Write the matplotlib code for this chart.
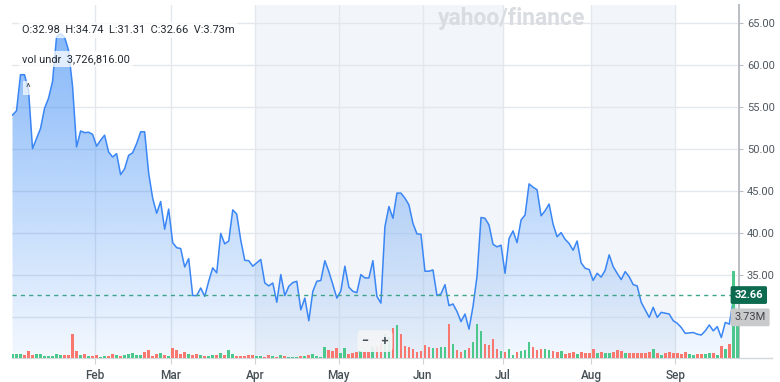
import numpy as np
import matplotlib.pyplot as plt
from matplotlib.lines import Line2D
import matplotlib.transforms as mtransforms

plt.rcParams['font.family'] = ['Roboto', 'DejaVu Sans']

# daily closes
jan = [54.1, 54.6, 58.9, 58.9, 57.1, 50.1, 51.3, 52.5, 54.9, 56.1, 58.1, 63.4, 63.8, 63.4,
       61.8, 57.5, 50.3, 52.2, 52.0, 52.05, 51.8]
feb = [50.4, 51.1, 51.7, 49.7, 49.1, 49.5, 47.0, 47.7, 49.3, 49.6, 50.7, 52.1, 52.1, 47.2,
       44.2, 42.4, 43.8, 40.5, 42.9]
mar = [38.9, 38.3, 38.2, 36.0, 37.0, 32.6, 32.6, 33.5, 32.5, 34.3, 35.9, 35.3, 40.0, 38.75,
       39.1, 42.8, 42.3, 39.2, 36.8, 36.75, 36.1]
apr = [36.5, 36.9, 34.1, 33.75, 34.1, 31.8, 35.1, 32.6, 33.7, 34.15, 34.3, 30.9, 32.3, 29.6,
       33.1, 34.3, 34.4, 36.75, 35.45, 33.9, 32.3]
may = [33.15, 36.1, 33.6, 33.1, 32.95, 35.1, 34.7, 34.7, 36.75, 32.5, 31.7, 40.8, 43.2, 41.8,
       44.8, 44.8, 44.2, 43.4, 41.2, 39.95, 39.9]
jun = [35.5, 35.5, 35.65, 32.6, 32.8, 33.9, 31.4, 31.6, 30.7, 29.5, 30.4, 28.6, 31.3, 34.9,
       41.9, 41.8, 41.0, 38.7, 38.4, 38.6]
jul = [35.25, 39.4, 40.3, 38.9, 41.6, 42.2, 45.9, 45.5, 45.2, 42.1, 42.7, 43.5, 41.1, 39.6,
       40.1, 39.3, 38.8, 38.0, 39.1, 36.5, 35.85, 35.7]
aug = [34.4, 35.25, 34.8, 35.6, 37.45, 36.05, 35.25, 34.5, 35.45, 34.85, 33.9, 33.75, 31.8,
       30.9, 30.0, 31.2, 30.0, 30.6, 30.5, 30.4, 29.6]
sep = [29.3, 28.8, 28.1, 28.15, 28.2, 28.0, 27.9, 28.4, 29.1, 28.4, 28.9, 27.6, 29.4, 29.2,
       32.1, 32.66]

# daily volume in millions
jan_vol = [0.35, 0.35, 0.35, 0.3, 0.6, 0.3, 0.35, 0.35, 0.15, 0.2, 0.2, 0.35, 0.25, 0.25,
           0.25, 2.3, 0.65, 0.25, 0.35, 0.15, 0.2]
feb_vol = [0.3, 0.1, 0.15, 0.2, 0.4, 0.3, 0.2, 0.25, 0.35, 0.45, 0.3, 0.3, 0.5, 0.75, 0.2,
           0.35, 0.45, 0.25, 0.2]
mar_vol = [0.9, 0.7, 0.35, 0.5, 0.35, 0.3, 0.35, 0.25, 0.2, 0.2, 0.25, 0.3, 0.45, 0.25, 0.75,
           0.4, 0.2, 0.2, 0.2, 0.25, 0.25]
apr_vol = [0.15, 0.15, 0.1, 0.3, 0.2, 0.1, 0.3, 0.15, 0.1, 0.05, 0.05, 0.15, 0.2, 0.3, 0.35,
           0.2, 0.1, 1.0, 0.7, 0.6, 0.9]
may_vol = [0.45, 0.9, 0.4, 0.45, 0.5, 0.6, 0.5, 0.5, 1.0, 1.05, 1.4, 2.3, 2.0, 2.8, 3.1, 2.3,
           1.1, 1.05, 0.8, 0.55, 0.65]
jun_vol = [1.2, 1.05, 0.9, 0.9, 1.0, 1.05, 3.2, 1.3, 0.7, 0.55, 0.7, 0.95, 1.45, 3.2, 2.5,
           1.3, 1.2, 1.75, 0.8, 0.65]
jul_vol = [0.55, 0.8, 0.25, 0.55, 0.65, 0.7, 1.45, 1.05, 0.7, 0.8, 0.8, 0.7, 0.6, 0.57, 0.6,
           0.4, 0.48, 0.57, 0.4, 0.57, 0.48, 0.41]
aug_vol = [0.8, 0.41, 0.57, 0.48, 0.48, 0.5, 0.7, 0.6, 0.48, 0.48, 0.48, 0.41, 0.48, 0.48,
           0.57, 0.79, 0.41, 0.25, 0.41, 0.57, 0.48]
sep_vol = [0.48, 0.35, 0.57, 0.35, 0.3, 0.35, 0.35, 0.35, 0.41, 0.48, 0.25, 1.1, 0.8, 1.3,
           8.3, 3.73]

month_labels = ['Feb', 'Mar', 'Apr', 'May', 'Jun', 'Jul', 'Aug', 'Sep']
price_ticks = [30, 35, 40, 45, 50, 55, 60, 65]
last_open, last_high, last_low = 32.98, 34.74, 31.31
vol_undr = 3726816.00

months = [jan, feb, mar, apr, may, jun, jul, aug, sep]
close = np.array(sum(months, []))
vol = np.array(sum([jan_vol, feb_vol, mar_vol, apr_vol, may_vol, jun_vol, jul_vol,
                    aug_vol, sep_vol], []))
x = np.arange(len(close))
starts = np.cumsum([len(m) for m in months])[:-1] - 0.5
tick_at = dict(zip(month_labels, starts))

ylo, yhi = 25.2, 67.2

fig = plt.figure(figsize=(7.8, 3.82), dpi=100)
ax = fig.add_axes([12.5 / 780, 1 - 357.7 / 382, 726 / 780, 352.7 / 382])
axv = ax.twinx()

# shaded month bands (Apr-Jul, Aug-Sep)
ax.axvspan(tick_at['Apr'], tick_at['Jul'], color='#f2f5f9', zorder=0, lw=0)
ax.axvspan(tick_at['Aug'], tick_at['Sep'], color='#f2f5f9', zorder=0, lw=0)

ax.set_axisbelow(True)
ax.grid(True, color='#e4e8ec', lw=1)

# gradient fill under the price line
poly = ax.fill_between(x, close, ylo, color='none', lw=0)
levels = np.linspace(ylo, yhi, 200)
alpha = np.clip(0.06 + 0.58 * (levels - ylo) / (65 - ylo), 0, 0.64)
grad = np.zeros((200, 1, 4))
grad[:, 0, :3] = np.array([60, 140, 245]) / 255
grad[:, 0, 3] = alpha
img = ax.imshow(grad, extent=[x[0], x[-1], ylo, yhi], aspect='auto', origin='lower',
                zorder=1, interpolation='bilinear')
img.set_clip_path(poly.get_paths()[0], transform=ax.transData)
ax.set_xlim(0, len(close) - 0.7)
ax.set_ylim(ylo, yhi)

ax.plot(x, close, color='#3a86f5', lw=1.1, zorder=3)
ax.axhline(close[-1], color='#3ea58c', lw=1, dashes=(3, 3), zorder=3)

# axes styling
for s in ['top', 'left']:
    ax.spines[s].set_visible(False)
ax.spines['right'].set_color('#b9bec4')
ax.spines['right'].set_linewidth(1.4)
ax.spines['bottom'].set_color('#d3d7db')
ax.yaxis.tick_right()
ax.yaxis.set_label_position('right')
ax.set_yticks(price_ticks)
ax.set_yticklabels(['' if v == 30 else f'{v:.2f}' for v in price_ticks])
ax.tick_params(axis='y', which='both', left=False, labelleft=False, right=True,
               labelright=True, labelsize=8, colors='#b9bec4', labelcolor='#50585f',
               length=3, pad=3)
ax.set_xticks(starts)
ax.set_xticklabels(month_labels, fontweight='medium')
ax.tick_params(axis='x', labelsize=8.5, colors='#cfd3d7', labelcolor='#464e56', length=4, pad=4)
fig.add_artist(Line2D([738.5 / 780, 772 / 780], [1 - 357.7 / 382] * 2, color='#d3d7db', lw=1))

# volume bars
bar_colors = ['#4cc88c'] + ['#4cc88c' if close[i] > close[i - 1] else '#f87870'
                            for i in range(1, len(close))]
axv.bar(x, vol, width=0.7, color=bar_colors, zorder=2)
axv.set_ylim(0, 352.7 / 10.5)
axv.set_xlim(0, len(close) - 0.7)
axv.set_yticks([])
for s in axv.spines.values():
    s.set_visible(False)

# price / volume tags on right
blend = mtransforms.blended_transform_factory(axv.transAxes, ax.transData)
axv.text(0.9945, close[-1], f'{close[-1]:.2f}', transform=blend, ha='left', va='center',
         fontsize=8, color='white', fontweight='bold', clip_on=False, zorder=10,
         bbox=dict(boxstyle='round,pad=0.35,rounding_size=0.15', fc='#0c6b4f', ec='none'))
axv.text(0.9945, 30, f'{vol[-1]:.2f}M', transform=blend, ha='left', va='center',
         fontsize=8, color='#3e444a', clip_on=False, zorder=10,
         bbox=dict(boxstyle='round,pad=0.35,rounding_size=0.15', fc='#c8cacc', ec='none'))

# overlay texts
axv.text(0.688, 0.963, 'yahoo/finance', transform=ax.transAxes, ha='center', va='center',
         fontsize=16.5, fontweight='bold', color='#d9dce0', zorder=0)
axv.text(0.013, 0.929,
         f'O:{last_open:.2f}  H:{last_high:.2f}  L:{last_low:.2f}  C:{close[-1]:.2f}  V:{vol[-1]:.2f}m',
         transform=ax.transAxes, ha='left', va='center', fontsize=7.9, color='#232a31', zorder=10,
         bbox=dict(fc='white', ec='none', alpha=0.75, pad=2))
axv.text(0.013, 0.847, f'vol undr  {vol_undr:,.2f}', transform=ax.transAxes, ha='left',
         va='center', fontsize=7.9, color='#232a31', zorder=10,
         bbox=dict(fc='white', ec='none', alpha=0.75, pad=2))
axv.text(0.021, 0.765, '^', transform=ax.transAxes, ha='center', va='center', fontsize=8,
         color='#464e56', zorder=10, bbox=dict(fc='white', ec='none', alpha=0.7, pad=1.5))
axv.text(0.4993, 0.047, '−    +', transform=ax.transAxes, ha='center', va='center', fontsize=9,
         color='#464e56', fontweight='bold', zorder=10,
         bbox=dict(boxstyle='round,pad=0.35', fc='#f4f5f6', ec='none', alpha=0.9))

fig.savefig('out.png', dpi=100)
